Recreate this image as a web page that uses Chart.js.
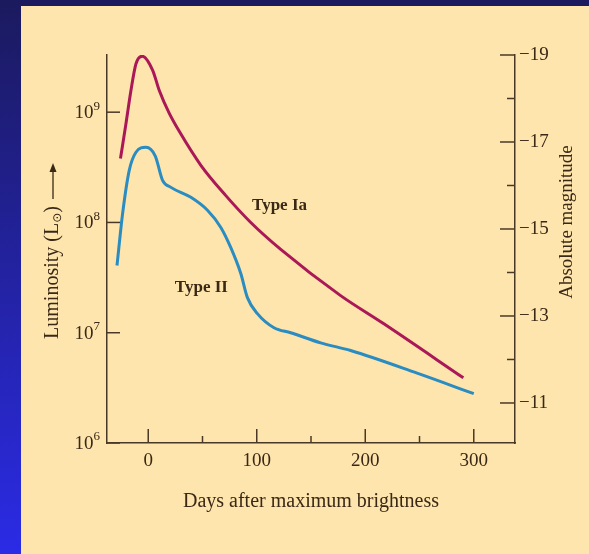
<!DOCTYPE html>
<html>
<head>
<meta charset="utf-8">
<script src="https://cdn.jsdelivr.net/npm/chart.js@4/dist/chart.umd.min.js"></script>
<style>
  body {
    margin: 0;
    width: 589px;
    height: 554px;
    overflow: hidden;
    background: linear-gradient(#1b1a5e, #2b2be6);
  }
  #panel {
    position: absolute;
    left: 21px;
    top: 6px;
    width: 568px;
    height: 548px;
    background: #fde5ad;
  }
</style>
</head>
<body>
<div id="panel"><canvas id="lightCurves" width="568" height="548"></canvas></div>
<script>
// light curves (days after max, luminosity in solar units)
let typeIaDays = [-25.6, -20.5, -15.9, -11.3, -5.5, 4.0, 10.1, 19.3, 29, 48.5, 71.3, 94.5, 122.1, 177.3, 216.8, 290.4];
let typeIaLum = [3.8e8, 7.9e8, 1.58e9, 2.75e9, 3.22e9, 2.41e9, 1.58e9, 9.8e8, 6.6e8, 3.3e8, 1.76e8, 1.0e8, 5.7e7, 2.17e7, 1.21e7, 3.9e6];

let typeIIDays = [-28.8, -23.6, -17.5, -11.3, -2.1, 6.5, 13.2, 20.9, 39.3, 54.6, 66.9, 76.1, 85.3, 91.4, 100.6, 115.9, 131.3, 158.9, 186.5, 247.8, 300];
let typeIILum = [4.07e7, 1.21e8, 2.97e8, 4.33e8, 4.8e8, 4.0e8, 2.41e8, 2.08e8, 1.69e8, 1.29e8, 9.0e7, 5.9e7, 3.44e7, 2.08e7, 1.49e7, 1.11e7, 1.0e7, 8.1e6, 6.9e6, 4.3e6, 2.8e6];

let seriesNames = ["Type Ia", "Type II"];

let dayTicks = [0, 100, 200, 300];
let dayMinorTicks = [50, 150, 250];
let lumTicks = [1e6, 1e7, 1e8, 1e9];
let lumExponents = ["6", "7", "8", "9"];
let magTicks = [-19, -17, -15, -13, -11];
let magMinorTicks = [-18, -16, -14, -12];

const ink = "#3a2816";
const axisColor = "#4a3826";
const serif = "'Liberation Serif', 'DejaVu Serif', serif";

// where the curve names sit, in data units
const nameSpots = [
  { x: 121, y: 1.43e8 },
  { x: 49, y: 2.57e7 }
];

function toPoints(days, lum) {
  return days.map((d, i) => ({ x: d, y: lum[i] }));
}

function line(ctx, x1, y1, x2, y2) {
  ctx.beginPath();
  ctx.moveTo(x1, y1);
  ctx.lineTo(x2, y2);
  ctx.stroke();
}

const decorations = {
  id: "decorations",
  afterDraw(chart) {
    let ctx = chart.ctx;
    let area = chart.chartArea;
    let xs = chart.scales.x;
    let ys = chart.scales.y;
    let ms = chart.scales.mag;

    ctx.save();
    ctx.strokeStyle = axisColor;
    ctx.lineWidth = 1.5;
    ctx.fillStyle = ink;

    // ticks point into the plot
    dayTicks.forEach(d => {
      let px = xs.getPixelForValue(d);
      line(ctx, px, area.bottom, px, area.bottom - 14);
    });
    dayMinorTicks.forEach(d => {
      let px = xs.getPixelForValue(d);
      line(ctx, px, area.bottom, px, area.bottom - 7);
    });
    lumTicks.forEach(v => {
      let py = ys.getPixelForValue(v);
      line(ctx, area.left, py, area.left + 13, py);
    });
    magTicks.forEach(m => {
      let py = ms.getPixelForValue(m);
      line(ctx, area.right, py, area.right - 15, py);
    });
    magMinorTicks.forEach(m => {
      let py = ms.getPixelForValue(m);
      line(ctx, area.right, py, area.right - 8, py);
    });

    // x tick labels
    ctx.font = "19px " + serif;
    ctx.textAlign = "center";
    ctx.textBaseline = "middle";
    dayTicks.forEach(d => {
      ctx.fillText(String(d), xs.getPixelForValue(d), area.bottom + 18);
    });

    // powers of ten on the left
    lumTicks.forEach((v, i) => {
      let py = ys.getPixelForValue(v);
      let right = area.left - 7;
      ctx.font = "13px " + serif;
      let ew = ctx.measureText(lumExponents[i]).width;
      ctx.textAlign = "left";
      ctx.fillText(lumExponents[i], right - ew, py - 6);
      ctx.font = "19px " + serif;
      ctx.textAlign = "right";
      ctx.fillText("10", right - ew, py + 1);
    });

    // magnitudes on the right
    ctx.font = "19px " + serif;
    ctx.textAlign = "left";
    magTicks.forEach(m => {
      ctx.fillText("\u2212" + Math.abs(m), area.right + 4, ms.getPixelForValue(m));
    });

    // x title
    ctx.font = "20px " + serif;
    ctx.textAlign = "center";
    ctx.fillText("Days after maximum brightness", (area.left + area.right) / 2, area.bottom + 59);

    // left title with sun subscript and arrow
    ctx.save();
    ctx.translate(32, (area.top + area.bottom) / 2 + 2);
    ctx.rotate(-Math.PI / 2);
    ctx.font = "20px " + serif;
    let part1 = "Luminosity (L";
    let w1 = ctx.measureText(part1).width;
    ctx.font = "12px 'DejaVu Sans', sans-serif";
    let wSun = ctx.measureText("\u2299").width;
    ctx.font = "20px " + serif;
    let w3 = ctx.measureText(")").width;
    let arrowLen = 36;
    let gap = 7;
    let total = w1 + wSun + w3 + gap + arrowLen;
    let sx = -total / 2;
    ctx.textAlign = "left";
    ctx.fillText(part1, sx, 0);
    ctx.font = "12px 'DejaVu Sans', sans-serif";
    ctx.fillText("\u2299", sx + w1, 5);
    ctx.font = "20px " + serif;
    ctx.fillText(")", sx + w1 + wSun, 0);
    let ax = sx + w1 + wSun + w3 + gap;
    ctx.strokeStyle = ink;
    ctx.lineWidth = 1.3;
    line(ctx, ax, 0, ax + arrowLen - 6, 0);
    ctx.beginPath();
    ctx.moveTo(ax + arrowLen, 0);
    ctx.lineTo(ax + arrowLen - 9, -3.5);
    ctx.lineTo(ax + arrowLen - 9, 3.5);
    ctx.closePath();
    ctx.fill();
    ctx.restore();

    // right title
    ctx.save();
    ctx.translate(area.right + 52, 216);
    ctx.rotate(-Math.PI / 2);
    ctx.font = "19px " + serif;
    ctx.textAlign = "center";
    ctx.fillText("Absolute magnitude", 0, 0);
    ctx.restore();

    // curve names
    ctx.font = "bold 17px " + serif;
    ctx.textAlign = "center";
    seriesNames.forEach((name, i) => {
      ctx.fillText(name, xs.getPixelForValue(nameSpots[i].x), ys.getPixelForValue(nameSpots[i].y));
    });

    ctx.restore();
  }
};

let chart = new Chart(document.getElementById("lightCurves"), {
  type: "line",
  data: {
    datasets: [{
      label: seriesNames[0],
      data: toPoints(typeIaDays, typeIaLum),
      borderColor: "#aa1858",
      borderWidth: 3,
      pointRadius: 0,
      fill: false,
      cubicInterpolationMode: "monotone"
    }, {
      label: seriesNames[1],
      data: toPoints(typeIIDays, typeIILum),
      borderColor: "#2a8cc0",
      borderWidth: 3,
      pointRadius: 0,
      fill: false,
      cubicInterpolationMode: "monotone"
    }]
  },
  options: {
    responsive: false,
    animation: false,
    layout: { padding: { top: 49, left: 0, right: 0, bottom: 0 } },
    plugins: {
      legend: { display: false },
      tooltip: { enabled: false }
    },
    scales: {
      x: {
        type: "linear",
        min: -38,
        max: 338,
        grid: { display: false },
        border: { color: axisColor, width: 1.5 },
        ticks: { display: false },
        afterFit: s => { s.height = 111; }
      },
      y: {
        type: "logarithmic",
        position: "left",
        min: 1e6,
        max: 3.3e9,
        grid: { display: false },
        border: { color: axisColor, width: 1.5 },
        ticks: { display: false },
        afterFit: s => { s.width = 86; }
      },
      mag: {
        type: "linear",
        position: "right",
        reverse: true,
        min: -19,
        max: -10.08,
        grid: { display: false },
        border: { color: axisColor, width: 1.5 },
        ticks: { display: false },
        afterFit: s => { s.width = 74; }
      }
    }
  },
  plugins: [decorations]
});
</script>
</body>
</html>
